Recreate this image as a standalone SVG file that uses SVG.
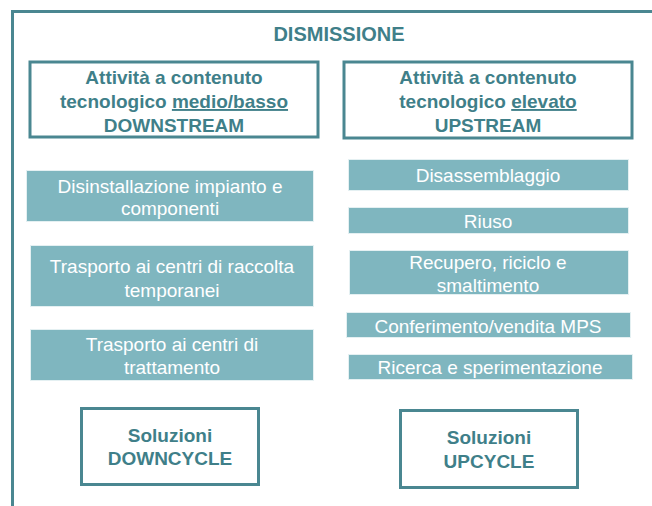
<svg xmlns="http://www.w3.org/2000/svg" width="652" height="506" viewBox="0 0 652 506">
<style>
.frame{fill:none;stroke:#4a8791;stroke-width:3}
.hdr{fill:#ffffff;stroke:#4a8791;stroke-width:3}
.act{fill:#7fb6bf;stroke:#e4f0f2;stroke-width:1}
.ht{font-family:"Liberation Sans Narrow","Arial Narrow",sans-serif;font-stretch:condensed;font-weight:bold;font-size:19px;fill:#3f7f89;text-anchor:middle}
.at{font-family:"Liberation Sans Narrow","Arial Narrow",sans-serif;font-stretch:condensed;font-size:19px;fill:#ffffff;text-anchor:middle}
.title{font-family:"Liberation Sans Narrow","Arial Narrow",sans-serif;font-stretch:condensed;font-weight:bold;font-size:20px;fill:#3f7f89;text-anchor:middle}
</style>
<rect width="652" height="506" fill="#ffffff"/>
<path class="frame" d="M12.5,506 V11.5 H652"/>
<text class="title" x="339" y="41">DISMISSIONE</text>
<g id="hdr-downstream">
<rect class="hdr" x="30" y="62" width="288" height="75"/>
<text class="ht" x="174" y="84">Attività a contenuto</text>
<text class="ht" x="174" y="108">tecnologico <tspan text-decoration="underline">medio/basso</tspan></text>
<text class="ht" x="174" y="132">DOWNSTREAM</text>
</g>
<g id="hdr-upstream">
<rect class="hdr" x="344" y="62" width="288" height="76"/>
<text class="ht" x="488" y="84">Attività a contenuto</text>
<text class="ht" x="488" y="108">tecnologico <tspan text-decoration="underline">elevato</tspan></text>
<text class="ht" x="488" y="132">UPSTREAM</text>
</g>
<g id="disinstallazione">
<rect class="act" x="26.5" y="170.5" width="287" height="51"/>
<text class="at" x="170" y="193">Disinstallazione impianto e</text>
<text class="at" x="170" y="215">componenti</text>
</g>
<g id="trasporto-raccolta">
<rect class="act" x="30.5" y="245.5" width="283" height="61"/>
<text class="at" x="172" y="273">Trasporto ai centri di raccolta</text>
<text class="at" x="172" y="297">temporanei</text>
</g>
<g id="trasporto-trattamento">
<rect class="act" x="30.5" y="329.5" width="283" height="51"/>
<text class="at" x="172" y="351">Trasporto ai centri di</text>
<text class="at" x="172" y="374">trattamento</text>
</g>
<g id="disassemblaggio">
<rect class="act" x="348.5" y="159.5" width="280" height="31"/>
<text class="at" x="488" y="182">Disassemblaggio</text>
</g>
<g id="riuso">
<rect class="act" x="348.5" y="207.5" width="280" height="26"/>
<text class="at" x="488" y="228">Riuso</text>
</g>
<g id="recupero">
<rect class="act" x="349.5" y="250.5" width="279" height="44"/>
<text class="at" x="488" y="269">Recupero, riciclo e</text>
<text class="at" x="488" y="292">smaltimento</text>
</g>
<g id="conferimento">
<rect class="act" x="346.5" y="312.5" width="284" height="25"/>
<text class="at" x="488" y="333">Conferimento/vendita MPS</text>
</g>
<g id="ricerca">
<rect class="act" x="348.5" y="354.5" width="284" height="25"/>
<text class="at" x="490" y="374">Ricerca e sperimentazione</text>
</g>
<g id="downcycle">
<rect class="hdr" x="81.5" y="408.5" width="177" height="76"/>
<text class="ht" x="170" y="442">Soluzioni</text>
<text class="ht" x="170" y="465">DOWNCYCLE</text>
</g>
<g id="upcycle">
<rect class="hdr" x="400.5" y="410.5" width="177" height="77"/>
<text class="ht" x="489" y="444">Soluzioni</text>
<text class="ht" x="489" y="468">UPCYCLE</text>
</g>
<g id="connectors"></g>
</svg>
